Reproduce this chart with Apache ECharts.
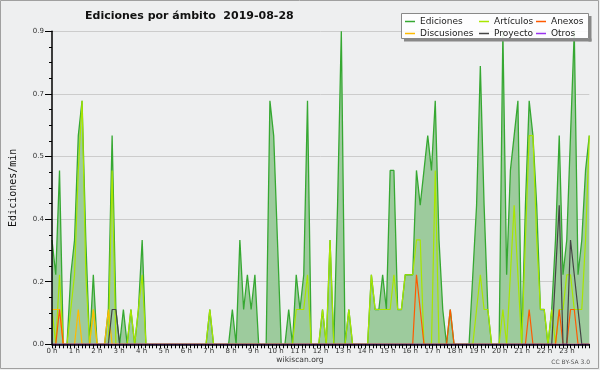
<!DOCTYPE html>
<html>
<head>
<meta charset="utf-8">
<script src="https://cdn.jsdelivr.net/npm/echarts/dist/echarts.min.js"></script>
<style>html,body{margin:0;padding:0;background:#eeeff0;}#c{width:600px;height:370px;}</style>
</head>
<body>
<div id="c"></div>
<script>
// ---- data (values per 10-minute slot, 144 slots, edits/min) ----
const hourLabels = ['0 h','1 h','2 h','3 h','4 h','5 h','6 h','7 h','8 h','9 h','10 h','11 h',
  '12 h','13 h','14 h','15 h','16 h','17 h','18 h','19 h','20 h','21 h','22 h','23 h'];
const yTickLabels = ['0.0','0.2','0.4','0.5','0.7','0.9'];

const ediciones = [
  0.3,0.2,0.5,0,0,0.2,0.3,0.6,0.7,0.3,
  0,0.2,0,0,0,0.1,0.6,0.1,0,0.1,
  0,0.1,0,0.1,0.3,0,0,0,0,0,
  0,0,0,0,0,0,0,0,0,0,
  0,0,0.1,0,0,0,0,0,0.1,0,
  0.3,0.1,0.2,0.1,0.2,0,0,0,0.7,0.6,
  0.3,0,0,0.1,0,0.2,0.1,0.2,0.7,0,
  0,0,0.1,0,0.3,0,0.4,0.9,0,0.1,
  0,0,0,0,0,0.2,0.1,0.1,0.2,0.1,
  0.5,0.5,0.1,0.1,0.2,0.2,0.2,0.5,0.4,0.5,
  0.6,0.5,0.7,0.3,0.1,0,0.1,0,0,0,
  0,0,0.2,0.4,0.8,0.4,0.1,0,0,0,
  0.9,0.2,0.5,0.6,0.7,0,0.4,0.7,0.6,0.4,
  0.1,0.1,0,0.1,0.3,0.6,0.2,0.3,0.6,0.9,
  0.2,0.3,0.5,0.6
];
const articulos = [
  0.1,0,0.2,0,0,0.1,0.2,0.5,0.7,0.2,
  0,0.1,0,0,0,0,0.5,0,0,0,
  0,0.1,0,0.1,0.2,0,0,0,0,0,
  0,0,0,0,0,0,0,0,0,0,
  0,0,0.1,0,0,0,0,0,0,0,
  0,0,0,0,0,0,0,0,0,0,
  0,0,0,0,0,0.1,0.1,0.1,0.2,0,
  0,0,0.1,0,0.3,0,0,0,0,0.1,
  0,0,0,0,0,0.2,0.1,0.1,0.1,0.1,
  0.1,0.2,0.1,0.1,0.2,0.2,0.2,0.3,0.3,0,
  0,0,0.5,0,0,0,0,0,0,0,
  0,0,0,0.1,0.2,0.1,0.1,0,0,0,
  0.1,0,0.2,0.4,0.2,0,0.3,0.6,0.6,0.3,
  0.1,0.1,0,0.1,0,0.1,0.1,0.2,0.2,0.1,
  0.1,0.1,0.3,0.6
];
const discusiones = [
  0.1,0.1,0.1,0,0,0,0,0.1,0,0,
  0,0.1,0,0,0,0.1,0,0,0,0,
  0,0,0,0,0,0,0,0,0,0,
  0,0,0,0,0,0,0,0,0,0,
  0,0,0,0,0,0,0,0,0,0,
  0,0,0,0,0,0,0,0,0,0,
  0,0,0,0,0,0,0,0,0,0,
  0,0,0,0,0,0,0,0,0,0,
  0,0,0,0,0,0,0,0,0,0,
  0,0,0,0,0,0,0,0,0,0,
  0,0,0,0,0,0,0,0,0,0,
  0,0,0,0,0,0,0,0,0,0,
  0,0,0,0,0,0,0,0,0,0,
  0,0,0,0,0,0,0,0,0,0,
  0,0,0,0
];
const anexos = [
  0,0,0.1,0,0,0,0,0,0,0,
  0,0,0,0,0,0,0,0,0,0,
  0,0,0,0,0,0,0,0,0,0,
  0,0,0,0,0,0,0,0,0,0,
  0,0,0,0,0,0,0,0,0,0,
  0,0,0,0,0,0,0,0,0,0,
  0,0,0,0,0,0,0,0,0,0,
  0,0,0,0,0,0,0,0,0,0,
  0,0,0,0,0,0,0,0,0,0,
  0,0,0,0,0,0,0,0.2,0.1,0,
  0,0,0,0,0,0,0.1,0,0,0,
  0,0,0,0,0,0,0,0,0,0,
  0,0,0,0,0,0,0,0.1,0,0,
  0,0,0,0,0,0.1,0,0,0.1,0.1,
  0,0,0,0
];
const proyecto = [
  0,0,0,0,0,0,0,0,0,0,
  0,0,0,0,0,0,0.1,0.1,0,0,
  0,0,0,0,0,0,0,0,0,0,
  0,0,0,0,0,0,0,0,0,0,
  0,0,0,0,0,0,0,0,0,0,
  0,0,0,0,0,0,0,0,0,0,
  0,0,0,0,0,0,0,0,0,0,
  0,0,0,0,0,0,0,0,0,0,
  0,0,0,0,0,0,0,0,0,0,
  0,0,0,0,0,0,0,0,0,0,
  0,0,0,0,0,0,0,0,0,0,
  0,0,0,0,0,0,0,0,0,0,
  0,0,0,0,0,0,0,0,0,0,
  0,0,0,0,0.2,0.4,0,0,0.3,0.2,
  0.1,0,0,0
];
const otros = [
  0,0,0,0,0,0,0,0,0,0, 0,0,0,0,0,0,0,0,0,0,
  0,0,0,0,0,0,0,0,0,0, 0,0,0,0,0,0,0,0,0,0,
  0,0,0,0,0,0,0,0,0,0, 0,0,0,0,0,0,0,0,0,0,
  0,0,0,0,0,0,0,0,0,0, 0,0,0,0,0,0,0,0,0,0,
  0,0,0,0,0,0,0,0,0,0, 0,0,0,0,0,0,0,0,0,0,
  0,0,0,0,0,0,0,0,0,0, 0,0,0,0,0,0,0,0,0,0,
  0,0,0,0,0,0,0,0,0,0, 0,0,0,0,0,0,0,0,0,0,
  0,0,0,0
];

// ---- chart ----
const chart = echarts.init(document.getElementById('c'), null, {renderer: 'canvas'});
const F = 'DejaVu Sans';
const pts = arr => arr.map((v, i) => [i, v]);
function lineSeries(name, data, color, width, extra) {
  return Object.assign({
    name: name, type: 'line', xAxisIndex: 0, yAxisIndex: 0,
    data: pts(data), symbol: 'none', color: color,
    lineStyle: {color: color, width: width}, emphasis: {disabled: true}
  }, extra || {});
}
const legendBase = {
  orient: 'vertical', top: 15.5, itemWidth: 10, itemHeight: 1.5, itemGap: 0, padding: 0,
  icon: 'rect', selectedMode: false, z: 6,
  textStyle: {fontFamily: F, fontSize: 9, color: '#222', lineHeight: 12}
};
const option = {
  backgroundColor: '#eeeff0',
  animation: false,
  title: {
    text: 'Ediciones por ámbito  2019-08-28', left: 85, top: 10, padding: 0,
    textStyle: {fontFamily: F, fontWeight: 'bold', fontSize: 11, color: '#111', lineHeight: 13}
  },
  legend: [
    Object.assign({}, legendBase, {data: ['Ediciones', 'Discusiones'], left: 405}),
    Object.assign({}, legendBase, {data: ['Artículos', 'Proyecto'], left: 479}),
    Object.assign({}, legendBase, {data: ['Anexos', 'Otros'], left: 536})
  ],
  grid: {left: 46.7, right: 10.7, top: 31.3, bottom: 25.7, containLabel: false},
  xAxis: [
    {type: 'value', min: 0, max: 143, show: false, gridIndex: 0},
    {type: 'value', min: 0, max: 24, interval: 1, gridIndex: 0, position: 'bottom', z: 10,
     axisLine: {show: true, onZero: false, lineStyle: {color: '#000', width: 1.5}},
     axisTick: {show: true, length: 4, lineStyle: {color: '#000', width: 1}},
     minorTick: {show: true, splitNumber: 6, length: 4, lineStyle: {color: '#000', width: 1}},
     splitLine: {show: false},
     axisLabel: {margin: 3, fontFamily: F, fontSize: 7, color: '#333',
       formatter: (v) => hourLabels[v] !== undefined ? hourLabels[v] : ''}}
  ],
  yAxis: [
    {type: 'value', min: 0, max: 0.9, interval: 0.18, z: 10,
     name: 'Ediciones/min', nameLocation: 'middle', nameGap: 34, nameRotate: 90,
     nameTextStyle: {fontFamily: 'DejaVu Sans Mono', fontSize: 10, color: '#111'},
     axisLine: {show: true, lineStyle: {color: '#000', width: 1.5}},
     axisTick: {show: true, length: 7, lineStyle: {color: '#000', width: 1}},
     minorTick: {show: true, splitNumber: 4, length: 3, lineStyle: {color: '#000', width: 1}},
     splitLine: {show: false},
     axisLabel: {margin: 8, fontFamily: F, fontSize: 7, color: '#333',
       formatter: (v, idx) => yTickLabels[idx]}},
    {type: 'value', min: 0, max: 0.9, interval: 0.18, z: 0,
     axisLine: {show: false}, axisTick: {show: false}, axisLabel: {show: false},
     splitLine: {show: true, lineStyle: {color: '#cccccc', width: 1}}}
  ],
  series: [
    lineSeries('Ediciones', ediciones, '#36a832', 1.3,
      {areaStyle: {color: '#9dcb9d', opacity: 1}, z: 2}),
    lineSeries('Artículos', articulos, '#a8e600', 1.2, {z: 3}),
    lineSeries('Discusiones', discusiones, '#ffbb00', 1.2, {z: 3}),
    lineSeries('Anexos', anexos, '#ff5a00', 1.2, {z: 3}),
    lineSeries('Proyecto', proyecto, '#444444', 1.2, {z: 3}),
    lineSeries('Otros', otros, '#9933ee', 1.2, {z: 3})
  ],
  graphic: [
    {type: 'rect', z: 0, silent: true, shape: {x: 0.5, y: 0.5, width: 598, height: 368},
     style: {fill: 'none', stroke: '#a0a0a0', lineWidth: 1}},
    // legend box
    {type: 'rect', z: 5, silent: true, shape: {x: 588.5, y: 16, width: 3, height: 25.5},
     style: {fill: '#888888'}},
    {type: 'rect', z: 5, silent: true, shape: {x: 404, y: 38.5, width: 187.5, height: 3},
     style: {fill: '#888888'}},
    {type: 'rect', z: 5, silent: true, shape: {x: 401.5, y: 13.5, width: 187, height: 25},
     style: {fill: 'rgba(255,255,255,0.88)', stroke: '#888888', lineWidth: 1}},
    // footer
    {type: 'text', z: 6, left: 'center', top: 356.5, silent: true,
     style: {text: 'wikiscan.org', font: '7.6px "DejaVu Sans"', fill: '#333'}},
    {type: 'text', z: 6, right: 10, top: 359, silent: true,
     style: {text: 'CC BY-SA 3.0', font: '6px "DejaVu Sans"', fill: '#555'}}
  ]
};
chart.setOption(option);
</script>
</body>
</html>
